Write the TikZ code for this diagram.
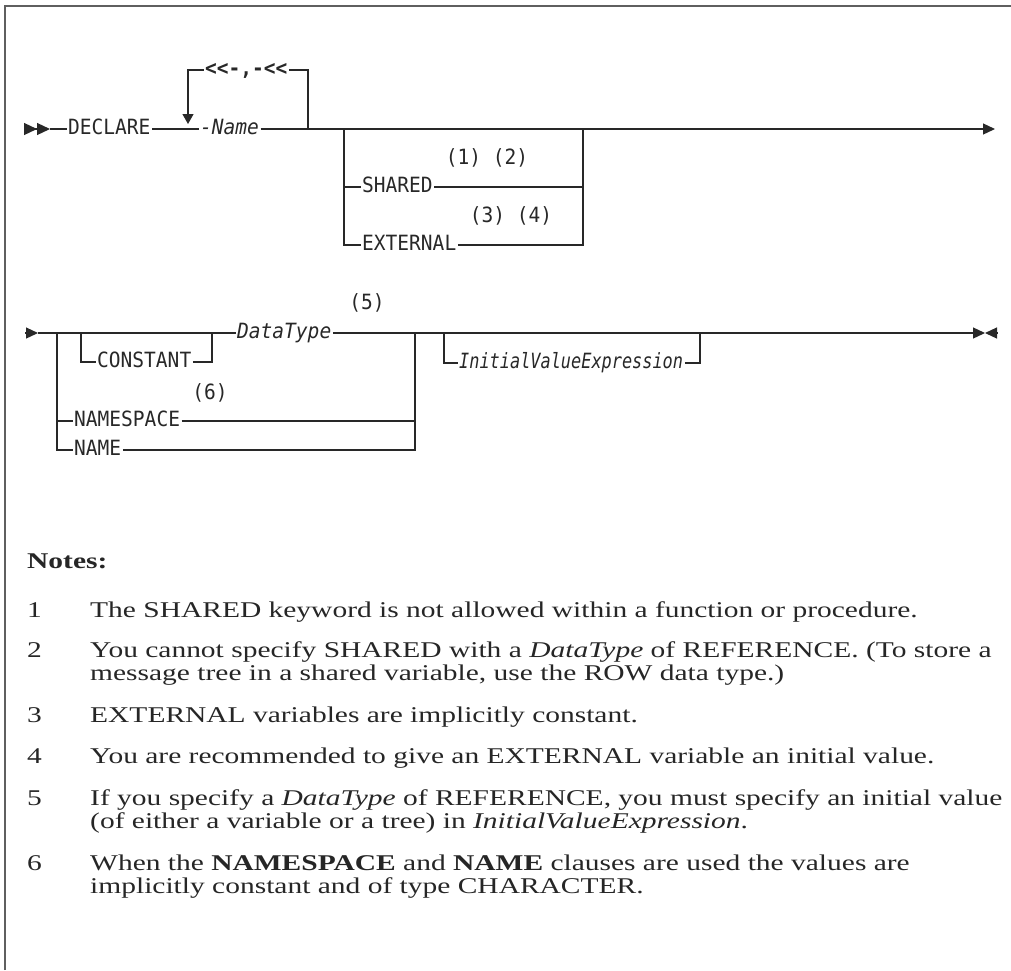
\documentclass[tikz,border=0pt]{standalone}
\usepackage{fontspec}
\usepackage{tikz}
\usetikzlibrary{arrows.meta}
\newfontfamily\railfont{DejaVu Sans Mono}[FakeStretch=0.93]
\newfontfamily\exprfont{DejaVu Sans Mono}[FakeStretch=0.805]
\newfontfamily\notefont{Liberation Serif}[FakeStretch=1.31]
\definecolor{railgray}{RGB}{40,40,40}
\definecolor{framegray}{RGB}{95,95,95}

\begin{document}
\begin{tikzpicture}[x=1pt, y=-1pt,
		rail/.style={draw=railgray, line width=1.2pt},
		endtip/.style={-{Triangle[length=12pt,width=11pt]}},
		kw/.style={font=\railfont\fontsize{21}{24}\selectfont, text=railgray,
			inner xsep=1.5pt, inner ysep=0pt, text height=10pt, text depth=0pt, anchor=west},
		var/.style={kw, font=\railfont\itshape\fontsize{21}{24}\selectfont},
		expr/.style={kw, font=\exprfont\itshape\fontsize{21}{24}\selectfont},
		fnref/.style={font=\railfont\fontsize{21}{24}\selectfont, text=railgray, inner sep=0pt},
		notehead/.style={font=\notefont\bfseries\fontsize{22.5}{23.3}\selectfont, text=black!85,
			inner sep=0pt, anchor=base west},
		notetext/.style={font=\notefont\fontsize{22.5}{23.3}\selectfont, text=black!85,
			inner sep=0pt, anchor=base west}
	]
		\useasboundingbox (0,0) rectangle (1011,970);
		% frame
		\draw[framegray, line width=2pt] (5,970) -- (5,6) -- (1011,6);

		% first rail
		\coordinate (r1s) at (24,129);
		\coordinate (r1a) at (50,129);
		\coordinate (r1e) at (995,129);
		\node[kw] (declare) at (66.5,129) {DECLARE};
		\node[var] (name) at (198.5,129) {-Name};
		\node[kw, font=\railfont\bfseries\fontsize{21}{24}\selectfont] (sep) at (203.5,70) {<\kern0pt<-,-<\kern0pt<};
		\coordinate (lptl) at (188,70);
		\coordinate (lpb) at (188,124);
		\coordinate (lptr) at (308,70);
		\coordinate (lpj) at (308,129);
		\coordinate (b1l) at (344,129);
		\coordinate (b1r) at (583,129);
		\node[kw] (shared) at (360.5,187) {SHARED};
		\node[kw] (external) at (360.5,245) {EXTERNAL};
		\node[fnref] (ref12) at (487,158) {(1) (2)};
		\node[fnref] (ref34) at (511,216) {(3) (4)};

		\draw[rail, -{Triangle[length=13pt,width=12pt]Triangle[length=13pt,width=12pt]}] (r1s) -- (r1a);
		\draw[rail] (r1a) -- (declare.west);
		\draw[rail] (declare.east) -- (name.west);
		\draw[rail, endtip] (name.east) -- (r1e);
		\draw[rail, -{Triangle[length=10pt,width=11pt]}] (sep.west) -- (lptl) -- (lpb);
		\draw[rail] (sep.east) -- (lptr) -- (lpj);
		\draw[rail] (b1l) |- (shared.west);
		\draw[rail] (b1l) |- (external.west);
		\draw[rail] (shared.east) -| (b1r);
		\draw[rail] (external.east) -| (b1r);

		% second rail
		\coordinate (r2s) at (25,333);
		\coordinate (r2a) at (38,333);
		\coordinate (r2e) at (985,333);
		\coordinate (r2z) at (997,333);
		\coordinate (b2l) at (57,333);
		\coordinate (b2r) at (415,333);
		\coordinate (cl) at (81,333);
		\coordinate (cr) at (212,333);
		\coordinate (il) at (444,333);
		\coordinate (ir) at (700,333);
		\node[kw] (constant) at (95.5,362) {CONSTANT};
		\node[var] (datatype) at (235.5,333) {DataType};
		\node[kw] (namespace) at (72.5,421) {NAMESPACE};
		\node[kw] (namekw) at (72.5,450) {NAME};
		\node[expr] (initexpr) at (457.5,363) {InitialValueExpression};
		\node[fnref] (ref5) at (367,303) {(5)};
		\node[fnref] (ref6) at (210,393) {(6)};

		\draw[rail, endtip] (r2s) -- (r2a);
		\draw[rail] (r2a) -- (datatype.west);
		\draw[rail, endtip] (datatype.east) -- (r2e);
		\draw[rail, endtip] (r2z) -- (r2e);
		\draw[rail] (cl) |- (constant.west);
		\draw[rail] (constant.east) -| (cr);
		\draw[rail] (b2l) |- (namespace.west);
		\draw[rail] (b2l) |- (namekw.west);
		\draw[rail] (namespace.east) -| (b2r);
		\draw[rail] (namekw.east) -| (b2r);
		\draw[rail] (il) |- (initexpr.west);
		\draw[rail] (initexpr.east) -| (ir);

		% notes
		\node[notehead] (notes) at (27,568) {Notes:};
		\node[notetext] (num1) at (27,617) {1};
		\node[notetext] (note1) at (90,617) {The SHARED keyword is not allowed within a function or procedure.};
		\node[notetext] (num2) at (27,657) {2};
		\node[notetext] (note2) at (90,657) {You cannot specify SHARED with a \textit{DataType} of REFERENCE. (To store a};
		\node[notetext] (note2b) at (90,680) {message tree in a shared variable, use the ROW data type.)};
		\node[notetext] (num3) at (27,722) {3};
		\node[notetext] (note3) at (90,722) {EXTERNAL variables are implicitly constant.};
		\node[notetext] (num4) at (27,763) {4};
		\node[notetext] (note4) at (90,763) {You are recommended to give an EXTERNAL variable an initial value.};
		\node[notetext] (num5) at (27,805) {5};
		\node[notetext] (note5) at (90,805) {If you specify a \textit{DataType} of REFERENCE, you must specify an initial value};
		\node[notetext] (note5b) at (90,828) {(of either a variable or a tree) in \textit{InitialValueExpression}.};
		\node[notetext] (num6) at (27,870) {6};
		\node[notetext] (note6) at (90,870) {When the \textbf{NAMESPACE} and \textbf{NAME} clauses are used the values are};
		\node[notetext] (note6b) at (90,893) {implicitly constant and of type CHARACTER.};
	\end{tikzpicture}
\end{document}
